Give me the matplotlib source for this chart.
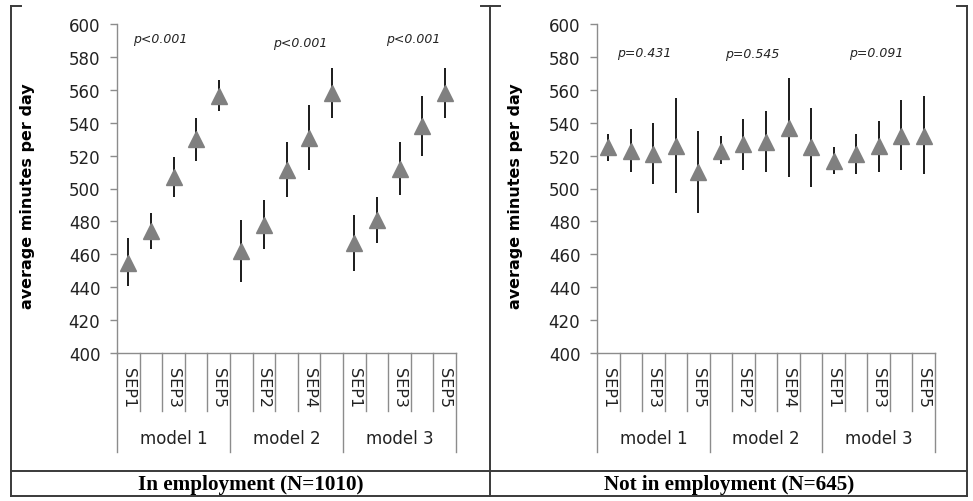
import matplotlib.pyplot as plt
from matplotlib.lines import Line2D

# categories (15 per panel: SEP1-5 for each model)
sep_labels = ["SEP1", "SEP2", "SEP3", "SEP4", "SEP5"]
models = ["model 1", "model 2", "model 3"]

# In employment (N=1010)
emp_mean = [455, 474, 507, 530, 556,
            462, 478, 511, 531, 558,
            467, 481, 512, 538, 558]
emp_low = [441, 463, 495, 517, 547,
           443, 463, 495, 511, 543,
           450, 467, 496, 520, 543]
emp_high = [470, 485, 519, 543, 566,
            481, 493, 528, 551, 573,
            484, 495, 528, 556, 573]
emp_p = ["p<0.001", "p<0.001", "p<0.001"]

# Not in employment (N=645)
nemp_mean = [525, 523, 521, 526, 510,
             523, 527, 528, 537, 525,
             517, 521, 526, 532, 532]
nemp_low = [517, 510, 503, 497, 485,
            515, 511, 510, 507, 501,
            509, 509, 510, 511, 509]
nemp_high = [533, 536, 540, 555, 535,
             532, 542, 547, 567, 549,
             525, 533, 541, 554, 556]
nemp_p = ["p=0.431", "p=0.545", "p=0.091"]

W, H = 973, 502
plt.rcParams['font.family'] = ['DejaVu Sans']
fig = plt.figure(figsize=(W / 100, H / 100), dpi=100)
fig.patch.set_facecolor("white")

axis_grey = "#8c8c8c"


def fx(px):
    return px / W


def fy(py):
    return 1 - py / H


def draw_panel(rect, mean, low, high, pvals, p_x, p_y, ylab_x):
    ax = fig.add_axes(rect)
    x = list(range(len(mean)))
    err = [[m - l for m, l in zip(mean, low)], [h - m for m, h in zip(mean, high)]]
    ax.errorbar(x, mean, yerr=err, fmt="none", ecolor="#1a1a1a", elinewidth=1.4, capsize=0, zorder=2)
    ax.plot(x, mean, linestyle="none", marker="^", markersize=11.5, color="#808080", zorder=3)

    ax.set_xlim(-0.5, len(mean) - 0.5)
    ax.set_ylim(400, 600)
    ax.set_yticks(range(400, 601, 20))
    ax.tick_params(axis="y", length=5, width=1, color=axis_grey, labelsize=12, pad=7, labelcolor="#222222")
    ax.set_xticks([])
    for s in ["top", "right"]:
        ax.spines[s].set_visible(False)
    for s in ["left", "bottom"]:
        ax.spines[s].set_color(axis_grey)
        ax.spines[s].set_linewidth(1)

    ax.set_ylabel("average minutes per day", fontsize=11.5, fontweight="bold")
    ax.yaxis.set_label_coords(ylab_x, 0.48)

    # category separators below the axis
    trans = ax.get_xaxis_transform()
    for i in range(len(mean) + 1):
        edge = i - 0.5
        if i % 5 == 0:
            ylow = -0.30
        else:
            ylow = -0.177
        ax.plot([edge, edge], [0, ylow], color=axis_grey, lw=1, transform=trans, clip_on=False)

    # SEP labels (every other one shown)
    for i in range(0, len(mean), 2):
        ax.text(i, -0.042, sep_labels[i % 5], rotation=-90, ha="center", va="top",
                fontsize=11.5, color="#222222", transform=trans)

    for g, name in enumerate(models):
        ax.text(g * 5 + 2, -0.258, name, ha="center", va="center", fontsize=12,
                color="#222222", transform=trans)

    for xp, yp, txt in zip(p_x, p_y, pvals):
        ax.text(xp, yp, txt, ha="center", va="center", fontsize=9, style="italic", color="#222222")
    return ax


draw_panel([fx(117), fy(354), fx(456) - fx(117), fy(25) - fy(354)],
           emp_mean, emp_low, emp_high, emp_p, [1.4, 7.6, 12.6], [591, 589, 591], -0.242)
draw_panel([fx(597), fy(354), fx(935) - fx(597), fy(25) - fy(354)],
           nemp_mean, nemp_low, nemp_high, nemp_p, [1.6, 6.4, 11.9], [582.5, 582, 582.5], -0.219)

# table frame around the two panels
frame_col = "#3a3a3a"
segments = [
    ((11, 7), (11, 497)),
    ((490, 7), (490, 497)),
    ((967, 7), (967, 497)),
    ((11, 7), (21, 7)),
    ((481, 7), (500, 7)),
    ((957, 7), (967, 7)),
    ((11, 472), (967, 472)),
    ((11, 497), (967, 497)),
]
for (x0, y0), (x1, y1) in segments:
    fig.add_artist(Line2D([fx(x0), fx(x1)], [fy(y0), fy(y1)], color=frame_col, lw=1.4,
                          transform=fig.transFigure))

fig.text(fx(251), fy(485), "In employment (N=1010)", ha="center", va="center",
         fontsize=15.2, fontweight="bold", family="Liberation Serif")
fig.text(fx(729), fy(485), "Not in employment (N=645)", ha="center", va="center",
         fontsize=15.2, fontweight="bold", family="Liberation Serif")

fig.savefig("out.png", dpi=100)
